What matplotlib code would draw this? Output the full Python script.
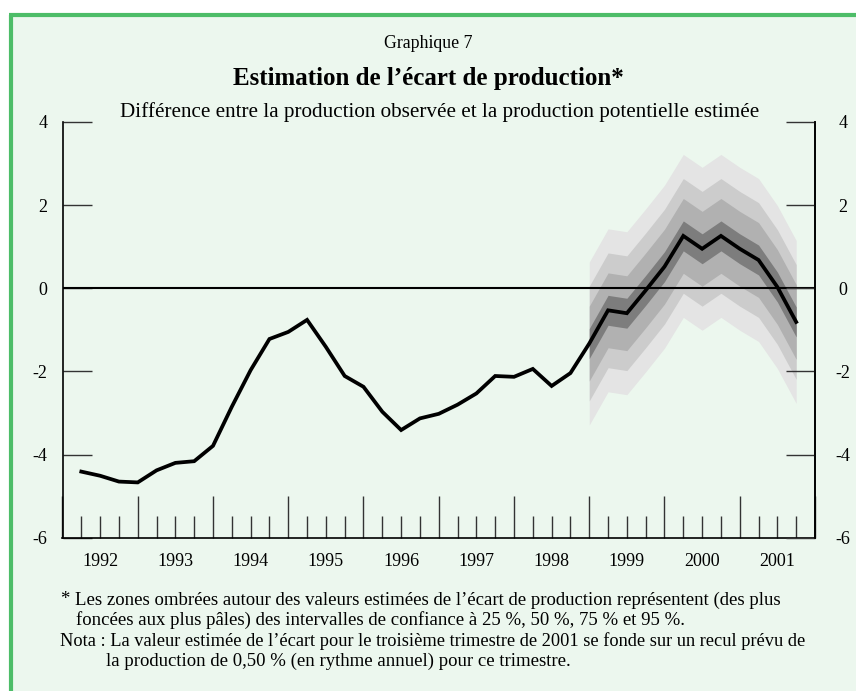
import matplotlib
matplotlib.use("Agg")
import matplotlib.pyplot as plt
from matplotlib.patches import Rectangle
from matplotlib.lines import Line2D
import numpy as np

# ---------------- data ----------------
start_year = 1992.25          # position of first quarterly observation (1992 T1)
gap_values = [-4.41, -4.51, -4.65, -4.67, -4.38, -4.20, -4.16, -3.79,
              -2.85, -1.97, -1.22, -1.05, -0.76, -1.41, -2.11, -2.37,
              -2.97, -3.41, -3.13, -3.02, -2.80, -2.53, -2.11, -2.13,
              -1.94, -2.35, -2.04, -1.33, -0.53, -0.60, -0.05, 0.52,
              1.26, 0.95, 1.26, 0.95, 0.68, 0.03, -0.81]
fan_start_index = 27
# half widths of the confidence bands (25 %, 50 %, 75 %, 95 %)
band_half_widths = [0.36, 0.90, 1.38, 1.96]
band_colors = ["#7d7d7d", "#b1b1b1", "#cccccc", "#e4e4e4"]
year_labels = ["1992", "1993", "1994", "1995", "1996", "1997", "1998",
               "1999", "2000", "2001"]
y_ticks = [-6, -4, -2, 0, 2, 4]

x = start_year + 0.25 * np.arange(len(gap_values))
y = np.array(gap_values)

# ---------------- figure ----------------
W, H = 856, 691
plt.rcParams["font.family"] = ["Liberation Serif", "DejaVu Serif"]
fig = plt.figure(figsize=(W / 100, H / 100), dpi=100)
fig.patch.set_facecolor("white")

bg = "#ecf7ee"
green = "#4dbd68"
fig.patches.append(Rectangle((9 / W, 0), 1, 1 - 12.5 / H, transform=fig.transFigure,
                             facecolor=bg, edgecolor="none", zorder=-10))
fig.lines.append(Line2D([11 / W, 11 / W], [0, 1 - 14.5 / H], transform=fig.transFigure,
                        color=green, lw=3.0, solid_capstyle="butt", zorder=-5))
fig.lines.append(Line2D([9 / W, 1], [1 - 14.5 / H, 1 - 14.5 / H], transform=fig.transFigure,
                        color=green, lw=3.0, solid_capstyle="butt", zorder=-5))

ax_l, ax_r, ax_t, ax_b = 62.5, 815, 122, 537.7
ax = fig.add_axes([ax_l / W, 1 - ax_b / H, (ax_r - ax_l) / W, (ax_b - ax_t) / H])
ax.set_zorder(1)
ax.set_facecolor("none")
ax.set_xlim(1992, 2002)
ax.set_ylim(-6, 4)

# fan chart
xf = x[fan_start_index:]
yf = y[fan_start_index:]
for hw, col in zip(band_half_widths[::-1], band_colors[::-1]):
    ax.fill_between(xf, yf - hw, yf + hw, color=col, lw=0, zorder=1)

ax.axhline(0, color="black", lw=1.5, zorder=2)
ax.plot(x, y, color="black", lw=2.7, solid_joinstyle="miter", zorder=3)

ax.spines["top"].set_visible(False)
for s in ["left", "right", "bottom"]:
    ax.spines[s].set_linewidth(1.2)

# y ticks
lab_fs = 13
ax.set_yticks(y_ticks)
ax.set_yticklabels([str(v) for v in y_ticks])
ax.tick_params(axis="y", direction="in", length=21, width=1.0, color="#333333",
               labelsize=lab_fs, pad=11, left=True, right=False)
ax2 = ax.twinx()
ax2.set_zorder(2)
ax2.set_ylim(-6, 4)
ax2.set_yticks(y_ticks)
ax2.set_yticklabels([str(v) for v in y_ticks])
ax2.tick_params(axis="y", direction="in", length=21, width=1.0, color="#333333",
                labelsize=lab_fs, pad=20)
for t in ax2.get_yticklabels():
    t.set_horizontalalignment("center")
for s in ["top", "left", "bottom"]:
    ax2.spines[s].set_visible(False)
ax2.spines["right"].set_linewidth(1.2)

# x ticks
years = np.arange(1992, 2003)
ax.set_xticks(years)
ax.set_xticklabels([""] * len(years))
ax.set_xticks(np.arange(1992, 2002.01, 0.25), minor=True)
ax.tick_params(axis="x", which="major", direction="in", length=30, width=1.0,
               color="#333333")
ax.tick_params(axis="x", which="minor", direction="in", length=15.6, width=1.0,
               color="#333333")
for i, lab in enumerate(year_labels):
    ax.text(1992 + i + 0.5, -23.5 / (ax_b - ax_t), lab, transform=ax.get_xaxis_transform(),
            ha="center", va="center", fontsize=lab_fs)

# titles
fig.text(428 / W, 1 - 44 / H, "Graphique 7", ha="center", va="center", fontsize=12.8)
fig.text(428 / W, 1 - 78 / H, "Estimation de l\u2019\u00e9cart de production*",
         ha="center", va="center", fontsize=18, fontweight="bold")
fig.text(440 / W, 1 - 112 / H,
         "Diff\u00e9rence entre la production observ\u00e9e et la production potentielle estim\u00e9e",
         ha="center", va="center", fontsize=15.2)

# notes
fs = 13.5
fig.text(60 / W, 1 - 600 / H, "*", ha="left", va="center", fontsize=fs)
fig.text(75 / W, 1 - 600 / H,
         "Les zones ombr\u00e9es autour des valeurs estim\u00e9es de l\u2019\u00e9cart de production repr\u00e9sentent (des plus",
         ha="left", va="center", fontsize=fs)
fig.text(76 / W, 1 - 620 / H,
         "fonc\u00e9es aux plus p\u00e2les) des intervalles de confiance \u00e0 25 %, 50 %, 75 % et 95 %.",
         ha="left", va="center", fontsize=fs)
fig.text(60 / W, 1 - 641 / H,
         "Nota : La valeur estim\u00e9e de l\u2019\u00e9cart pour le troisi\u00e8me trimestre de 2001 se fonde sur un recul pr\u00e9vu de",
         ha="left", va="center", fontsize=13.2)
fig.text(106 / W, 1 - 661 / H,
         "la production de 0,50 % (en rythme annuel) pour ce trimestre.",
         ha="left", va="center", fontsize=fs)

fig.savefig("out.png", dpi=100, facecolor=fig.get_facecolor())
